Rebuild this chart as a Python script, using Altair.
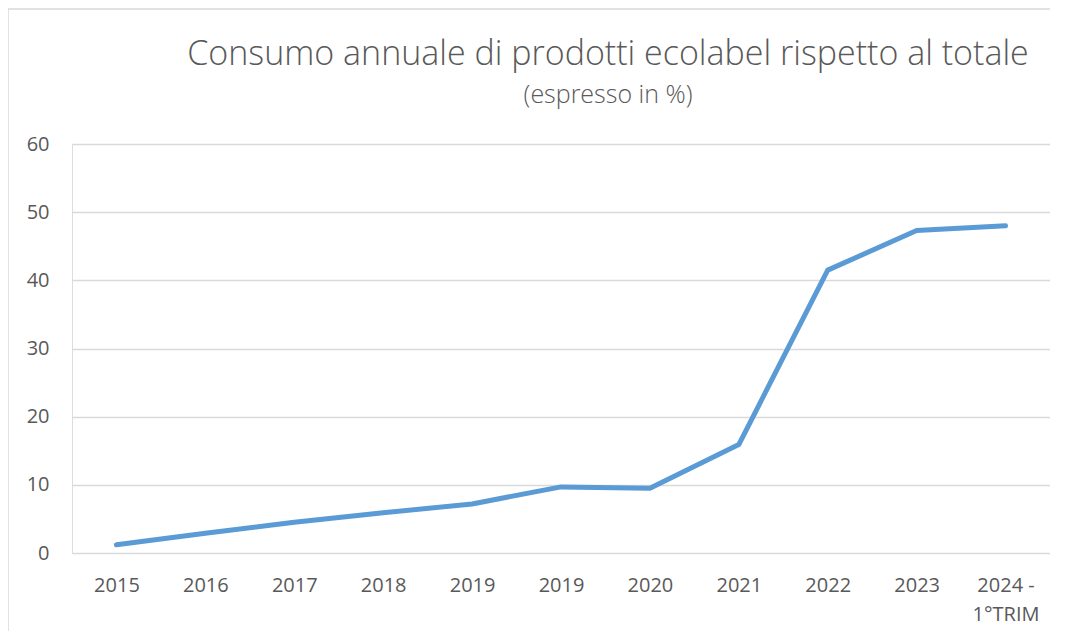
import altair as alt
import pandas as pd

labels = ["2015", "2016", "2017", "2018", "2019", "2019", "2020", "2021", "2022", "2023", "2024 -|1°TRIM"]
values = [1.2, 2.9, 4.5, 5.9, 7.2, 9.7, 9.5, 15.9, 41.5, 47.3, 48.0]
title_text = "Consumo annuale di prodotti ecolabel rispetto al totale"
subtitle_text = "(espresso in %)"

df = pd.DataFrame({"idx": list(range(len(labels))), "label": labels, "value": values})
tdf = pd.DataFrame({"t": [title_text], "s": [subtitle_text]})

label_arr = "[" + ",".join("'" + l + "'" for l in labels) + "]"
label_expr = f"split({label_arr}[datum.value], '|')"

FONT = "Open Sans"
GREY = "#595959"

line = alt.Chart(df).mark_line(color="#5B9BD5", strokeWidth=5, strokeCap="round", strokeJoin="round").encode(
    x=alt.X("idx:O", title=None, sort=None,
            scale=alt.Scale(paddingInner=0, paddingOuter=0.5),
            axis=alt.Axis(labelExpr=label_expr, labelAngle=0, ticks=False, domain=False,
                          grid=False, labelPadding=22, labelFontSize=20, labelColor=GREY,
                          labelFont=FONT, labelLineHeight=29, labelBaseline="top")),
    y=alt.Y("value:Q", title=None,
            scale=alt.Scale(domain=[0, 60], nice=False),
            axis=alt.Axis(values=[0, 10, 20, 30, 40, 50, 60], ticks=False, domain=False,
                          gridColor="#d9d9d9", gridWidth=1.3, labelPadding=23,
                          labelFontSize=20, labelColor=GREY, labelFont=FONT)),
)

border = alt.Chart(tdf).mark_rect(fill="transparent", stroke="#d9d9d9", strokeWidth=1.5).encode(
    x=alt.value(-64), x2=alt.value(1100), y=alt.value(-135), y2=alt.value(700)
)

title = alt.Chart(tdf).mark_text(font=FONT, fontSize=34, fontWeight=300, color=GREY,
                                 align="center", baseline="alphabetic").encode(
    text="t:N", x=alt.value(536), y=alt.value(-79)
)
subtitle = alt.Chart(tdf).mark_text(font=FONT, fontSize=25, fontWeight=300, color=GREY,
                                    align="center", baseline="alphabetic").encode(
    text="s:N", x=alt.value(536), y=alt.value(-41)
)

chart = alt.layer(border, line, title, subtitle).properties(
    width=978, height=409,
    autosize=alt.AutoSizeParams(type="none"),
    padding={"left": 64, "top": 136, "right": 0, "bottom": 78},
).configure_view(stroke=None).configure(background="white")

chart.save("out.html", embed_options={"renderer": "svg", "actions": False})
